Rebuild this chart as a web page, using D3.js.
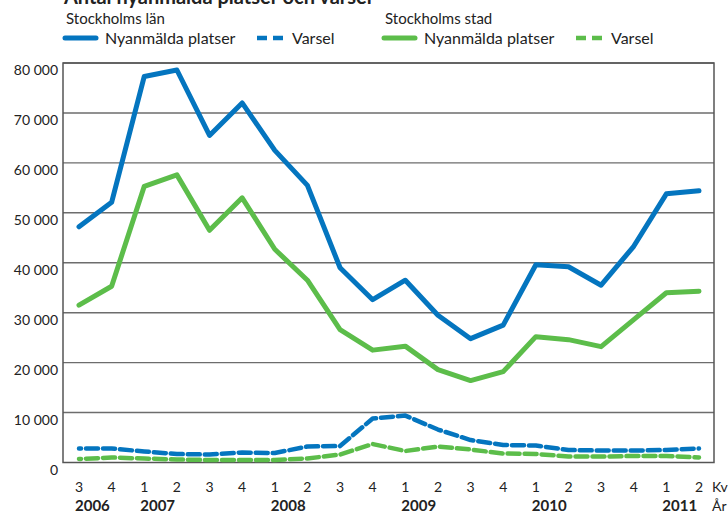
<!DOCTYPE html>
<html>
<head>
<meta charset="utf-8">
<title>Antal nyanmälda platser och varsel</title>
<script src="https://d3js.org/d3.v7.min.js"></script>
<style>
  body { margin: 0; background: #fff; }
  text { font-family: Lato, "Open Sans", sans-serif; fill: #222; }
</style>
</head>
<body>
<svg id="chart" width="728" height="513"></svg>
<script>
// quarters, from Q3 2006 to Q2 2011
const quarters = ["3","4","1","2","3","4","1","2","3","4","1","2","3","4","1","2","3","4","1","2"];
const years = [
  { label: "2006", index: 0 },
  { label: "2007", index: 2 },
  { label: "2008", index: 6 },
  { label: "2009", index: 10 },
  { label: "2010", index: 14 },
  { label: "2011", index: 18 }
];
const yTicks = [0, 10000, 20000, 30000, 40000, 50000, 60000, 70000, 80000];

// Stockholms län
const lanPlatser = [47200, 52100, 77300, 78600, 65500, 72000, 62500, 55500, 39000, 32600,
                    36500, 29500, 24800, 27500, 39600, 39200, 35500, 43300, 53800, 54400];
const lanVarsel  = [2800, 2800, 2200, 1700, 1600, 2000, 1900, 3200, 3300, 8800,
                    9400, 6600, 4500, 3500, 3400, 2500, 2400, 2400, 2500, 2800];
// Stockholms stad
const stadPlatser = [31500, 35300, 55300, 57600, 46500, 53000, 42700, 36500, 26600, 22500,
                     23300, 18600, 16400, 18200, 25200, 24600, 23200, 28600, 34000, 34300];
const stadVarsel  = [700, 1000, 800, 600, 500, 500, 500, 800, 1600, 3700,
                     2300, 3200, 2600, 1800, 1700, 1200, 1200, 1300, 1300, 1000];

const blue = "#0475bf", green = "#5cbd4a";

const svg = d3.select("#chart");
const plotLeft = 63, plotRight = 714, plotTop = 63, plotBottom = 462.5;

const x = d3.scaleLinear().domain([0, quarters.length - 1]).range([79, 699]);
const y = d3.scaleLinear().domain([0, 80000]).range([plotBottom, plotTop]);

// title (cut off at top, as in the source)
svg.append("text")
  .attr("x", 64).attr("y", 4)
  .style("font-size", "20px").style("font-weight", "bold")
  .text("Antal nyanmälda platser och varsel");

// gridlines
svg.append("g")
  .selectAll("line")
  .data(yTicks.filter(d => d > 0))
  .join("line")
  .attr("x1", plotLeft).attr("x2", plotRight)
  .attr("y1", d => y(d)).attr("y2", d => y(d))
  .attr("stroke", "#6d6d6d").attr("stroke-width", 1.4);

// frame
svg.append("rect")
  .attr("x", plotLeft).attr("y", plotTop)
  .attr("width", plotRight - plotLeft).attr("height", plotBottom - plotTop)
  .attr("fill", "none").attr("stroke", "#555").attr("stroke-width", 1.5);

// y labels
const yAxis = d3.axisLeft(y).tickValues(yTicks).tickSize(0).tickPadding(5)
  .tickFormat(d => d3.format(",")(d).replace(/,/g, " "));
const gy = svg.append("g").attr("transform", `translate(${plotLeft},0)`).call(yAxis);
gy.select(".domain").remove();
gy.selectAll("text").style("font-size", "14px").attr("dy", "0.85em").attr("fill", "#222");

// x labels
const gx = svg.append("g");
gx.selectAll("text.q")
  .data(quarters)
  .join("text")
  .attr("class", "q")
  .attr("x", (d, i) => x(i)).attr("y", 492)
  .attr("text-anchor", "middle")
  .style("font-size", "14px")
  .text(d => d);
gx.selectAll("text.yr")
  .data(years)
  .join("text")
  .attr("class", "yr")
  .attr("x", d => x(d.index) - 4).attr("y", 511)
  .style("font-size", "15px").style("font-weight", "bold")
  .text(d => d.label);
gx.append("text").attr("x", 712).attr("y", 492).style("font-size", "14px").text("Kv");
gx.append("text").attr("x", 712).attr("y", 511).style("font-size", "14px").text("År");

// lines
const line = d3.line().x((d, i) => x(i)).y(d => y(d));
const series = [
  { values: lanVarsel, color: blue, dash: "12,5" },
  { values: stadVarsel, color: green, dash: "12,5" },
  { values: stadPlatser, color: green, dash: null },
  { values: lanPlatser, color: blue, dash: null }
];
svg.append("g")
  .selectAll("path")
  .data(series)
  .join("path")
  .attr("d", d => line(d.values))
  .attr("fill", "none")
  .attr("stroke", d => d.color)
  .attr("stroke-width", d => d.dash ? 4.5 : 5)
  .attr("stroke-linejoin", "round")
  .attr("stroke-linecap", "round")
  .attr("stroke-dasharray", d => d.dash)
  .attr("stroke-dashoffset", 10);

// legend
const legendGroups = [
  { title: "Stockholms län", color: blue, x: 63 },
  { title: "Stockholms stad", color: green, x: 382 }
];
const lg = svg.append("g").selectAll("g").data(legendGroups).join("g")
  .attr("transform", d => `translate(${d.x},0)`);
lg.append("text").attr("x", 3).attr("y", 24).style("font-size", "15px").text(d => d.title);
lg.append("line")
  .attr("x1", 2).attr("x2", 33).attr("y1", 38).attr("y2", 38)
  .attr("stroke", d => d.color).attr("stroke-width", 5).attr("stroke-linecap", "round");
lg.append("text").attr("x", 42).attr("y", 44).style("font-size", "16px").text("Nyanmälda platser");
lg.append("line")
  .attr("x1", 194).attr("x2", 220).attr("y1", 38).attr("y2", 38)
  .attr("stroke", d => d.color).attr("stroke-width", 4.5)
  .attr("stroke-dasharray", "10,6");
lg.append("text").attr("x", 229).attr("y", 44).style("font-size", "16px").text("Varsel");
</script>
</body>
</html>
